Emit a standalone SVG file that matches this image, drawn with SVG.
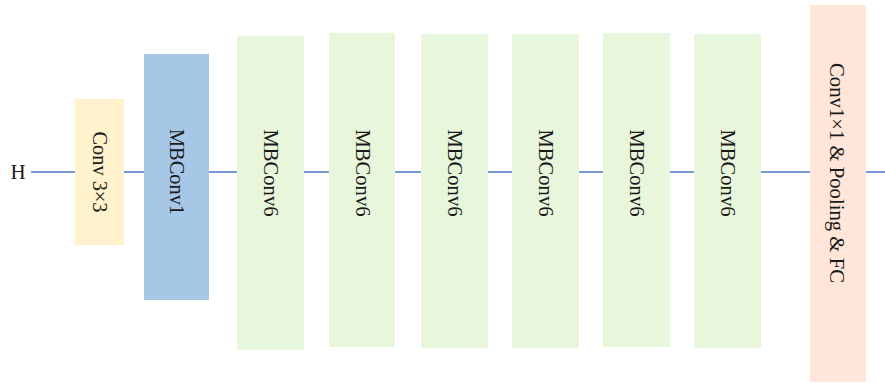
<svg xmlns="http://www.w3.org/2000/svg" width="885" height="383" viewBox="0 0 885 383">
  <style>
    .lbl { font-family: "Liberation Serif", "Times New Roman", serif; font-size: 21px; fill: #1a1a1a; text-anchor: middle; dominant-baseline: central; }
    .wire { stroke: #4a76c4; stroke-width: 1.3; fill: none; }
    .stem { fill: #fff2cc; }
    .mb1 { fill: #a6c8e6; }
    .mb6 { fill: #e8f7dc; }
    .head { fill: #ffe6d9; }
  </style>
  <rect width="885" height="383" fill="#ffffff"/>

  <!-- backbone wire running behind all blocks -->
  <g id="connectors">
    <line class="wire" x1="31" y1="172" x2="885" y2="172"/>
  </g>

  <g id="input">
    <text x="18" y="172" class="lbl" style="font-size:21px">H</text>
  </g>

  <g id="conv3x3">
    <rect class="stem" x="75" y="99" width="49" height="146"/>
    <text class="lbl" transform="translate(100 172) rotate(90)" textLength="81" lengthAdjust="spacingAndGlyphs">Conv 3×3</text>
  </g>

  <g id="mbconv1">
    <rect class="mb1" x="144" y="54" width="65" height="246"/>
    <text class="lbl" transform="translate(177 172) rotate(90)" textLength="86" lengthAdjust="spacingAndGlyphs">MBConv1</text>
  </g>

  <g id="mbconv6-1">
    <rect class="mb6" x="237" y="36" width="67" height="314"/>
    <text class="lbl" transform="translate(271 173) rotate(90)" textLength="87" lengthAdjust="spacingAndGlyphs">MBConv6</text>
  </g>

  <g id="mbconv6-2">
    <rect class="mb6" x="329" y="33" width="66" height="314"/>
    <text class="lbl" transform="translate(363 173) rotate(90)" textLength="87" lengthAdjust="spacingAndGlyphs">MBConv6</text>
  </g>

  <g id="mbconv6-3">
    <rect class="mb6" x="421" y="34" width="67" height="314"/>
    <text class="lbl" transform="translate(455 173) rotate(90)" textLength="87" lengthAdjust="spacingAndGlyphs">MBConv6</text>
  </g>

  <g id="mbconv6-4">
    <rect class="mb6" x="512" y="34" width="67" height="314"/>
    <text class="lbl" transform="translate(546 173) rotate(90)" textLength="87" lengthAdjust="spacingAndGlyphs">MBConv6</text>
  </g>

  <g id="mbconv6-5">
    <rect class="mb6" x="603" y="33" width="67" height="314"/>
    <text class="lbl" transform="translate(637 173) rotate(90)" textLength="87" lengthAdjust="spacingAndGlyphs">MBConv6</text>
  </g>

  <g id="mbconv6-6">
    <rect class="mb6" x="694" y="34" width="67" height="314"/>
    <text class="lbl" transform="translate(728 173) rotate(90)" textLength="87" lengthAdjust="spacingAndGlyphs">MBConv6</text>
  </g>

  <g id="head">
    <rect class="head" x="810" y="5" width="56" height="377"/>
    <text class="lbl" transform="translate(837 173) rotate(90)" textLength="220" lengthAdjust="spacingAndGlyphs">Conv1×1 &amp; Pooling &amp; FC</text>
  </g>
</svg>
